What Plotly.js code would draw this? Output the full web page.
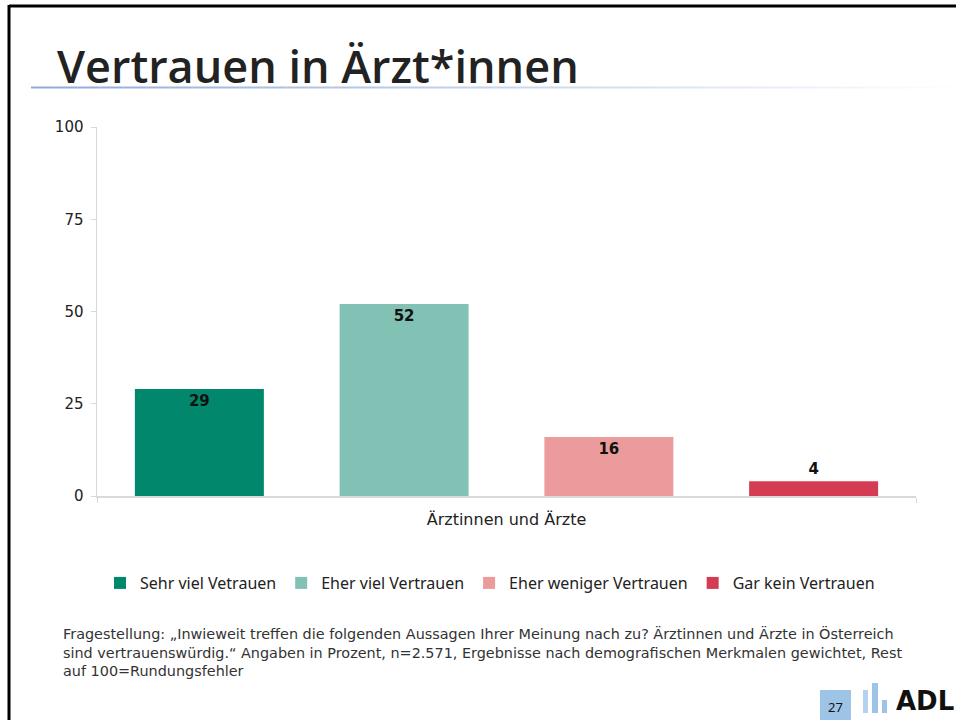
<!DOCTYPE html>
<html>
<head>
<meta charset="utf-8">
<script src="https://cdn.plot.ly/plotly-3.0.1.min.js"></script>
<style>
  html, body { margin:0; padding:0; background:#fff; overflow:hidden; }
  #chart { width:956px; height:720px; position:relative; }
</style>
</head>
<body>
<div id="chart"></div>
<script>
// ---- data ----
const categories = ["Ärztinnen und Ärzte"];
const seriesNames = ["Sehr viel Vetrauen", "Eher viel Vertrauen", "Eher weniger Vertrauen", "Gar kein Vertrauen"];
const sehrViel = [29];
const eherViel = [52];
const eherWeniger = [16];
const garKein = [4];
const yTickVals = [0, 25, 50, 75, 100];
const yTickText = ["0", "25", "50", "75", "100"];
const titleText = "Vertrauen in Ärzt*innen";
const footnoteText = "Fragestellung: „Inwieweit treffen die folgenden Aussagen Ihrer Meinung nach zu? Ärztinnen und Ärzte in Österreich<br>sind vertrauenswürdig.“ Angaben in Prozent, n=2.571, Ergebnisse nach demografischen Merkmalen gewichtet, Rest<br>auf 100=Rundungsfehler";
const pageNumber = "27";
const logoText = "ADL";

// ---- layout geometry ----
const W = 956, H = 720;
const M = {l: 97, r: 40, t: 127, b: 224};
const PW = W - M.l - M.r, PH = H - M.t - M.b;
const px = x => (x - M.l) / PW;
const py = y => (H - M.b - y) / PH;

const colors = ["#00876c", "#82c2b4", "#ec9b9c", "#d33c52"];
const seriesVals = [sehrViel, eherViel, eherWeniger, garKein];

const labelFont = {family: "DejaVu Sans, sans-serif", size: 15, color: "#111", weight: 700};
const traces = seriesVals.map((vals, i) => ({
  type: "bar",
  name: seriesNames[i],
  x: categories,
  y: vals,
  marker: {color: colors[i], line: {width: 0}},
  text: vals.map(v => String(v)),
  textposition: "auto",
  insidetextanchor: "end",
  textangle: 0,
  constraintext: "none",
  cliponaxis: false,
  insidetextfont: labelFont,
  outsidetextfont: labelFont,
  hoverinfo: "skip"
}));

// title underline gradient
const shapes = [];
const segs = 40;
const x0 = 31, x1 = 956;
for (let i = 0; i < segs; i++) {
  const a = x0 + (x1 - x0) * i / segs, b = x0 + (x1 - x0) * (i + 1) / segs;
  const t = i / segs;
  const r = Math.round(143 + (255 - 143) * t), g = Math.round(170 + (255 - 170) * t), bl = Math.round(220 + (255 - 220) * t);
  shapes.push({type: "line", xref: "paper", yref: "paper", x0: px(a), x1: px(b), y0: py(87.5), y1: py(87.5),
    line: {color: `rgb(${r},${g},${bl})`, width: 2}});
}
// page number box
shapes.push({type: "rect", xref: "paper", yref: "paper", x0: px(820), x1: px(851), y0: py(720), y1: py(690),
  fillcolor: "#9dc3e6", line: {width: 0}});
// logo bars
shapes.push({type: "rect", xref: "paper", yref: "paper", x0: px(863), x1: px(868), y0: py(713), y1: py(690), fillcolor: "#b4d2ee", line: {width: 0}});
shapes.push({type: "rect", xref: "paper", yref: "paper", x0: px(872), x1: px(878), y0: py(713), y1: py(683), fillcolor: "#9dc3e6", line: {width: 0}});
shapes.push({type: "rect", xref: "paper", yref: "paper", x0: px(882), x1: px(887), y0: py(713), y1: py(700), fillcolor: "#9dc3e6", line: {width: 0}});
// slide border (top and left)
shapes.push({type: "line", xref: "paper", yref: "paper", x0: px(9), x1: px(960), y0: py(6), y1: py(6), line: {color: "#000", width: 3}});
shapes.push({type: "line", xref: "paper", yref: "paper", x0: px(9), x1: px(9), y0: py(5), y1: py(722), line: {color: "#000", width: 3}});

const annotations = [
  {text: footnoteText, xref: "paper", yref: "paper", x: px(61), y: py(623), xanchor: "left", yanchor: "top",
   align: "left", showarrow: false, font: {family: "DejaVu Sans, sans-serif", size: 14.4, color: "#333"}},
  {text: pageNumber, xref: "paper", yref: "paper", x: px(835.5), y: py(707), xanchor: "center", yanchor: "middle",
   showarrow: false, font: {family: "Noto Sans, sans-serif", size: 13, color: "#111"}},
  {text: "<b>" + logoText + "</b>", xref: "paper", yref: "paper", x: px(894), y: py(701), xanchor: "left", yanchor: "middle",
   showarrow: false, font: {family: "DejaVu Sans, sans-serif", size: 26, color: "#111"}}
];

const layout = {
  width: W, height: H,
  margin: M,
  paper_bgcolor: "#fff", plot_bgcolor: "#fff",
  title: {text: titleText, xref: "container", yref: "container", x: 57 / W, xanchor: "left",
          y: 1 - 67 / H, yanchor: "middle",
          font: {family: "Open Sans, sans-serif", size: 45, color: "#222", weight: 600}},
  barmode: "group",
  bargap: 0.0,
  bargroupgap: 0.37,
  showlegend: true,
  legend: {orientation: "h", x: px(100), xanchor: "left", y: py(583), yanchor: "middle",
           font: {family: "Noto Sans, sans-serif", size: 16, color: "#222"}, itemwidth: 30, traceorder: "normal",
           itemclick: false, itemdoubleclick: false},
  xaxis: {
    type: "category",
    range: [-0.5, 0.5],
    showline: true, linecolor: "#d9d9d9", linewidth: 1.5,
    ticks: "outside", tickson: "boundaries", ticklen: 5, tickcolor: "#d9d9d9",
    tickfont: {family: "DejaVu Sans, sans-serif", size: 16, color: "#222"},
    showgrid: false, zeroline: false, fixedrange: true, ticklabelstandoff: 8
  },
  yaxis: {
    range: [0, 100],
    tickvals: yTickVals, ticktext: yTickText,
    showline: true, linecolor: "#d9d9d9", linewidth: 1.5,
    ticks: "outside", ticklen: 5, tickcolor: "#d9d9d9",
    tickfont: {family: "DejaVu Sans, sans-serif", size: 15, color: "#222"},
    showgrid: false, zeroline: false, fixedrange: true, ticklabelstandoff: 4
  },
  shapes: shapes,
  annotations: annotations
};

Plotly.newPlot("chart", traces, layout, {displayModeBar: false, staticPlot: true});
</script>
</body>
</html>
